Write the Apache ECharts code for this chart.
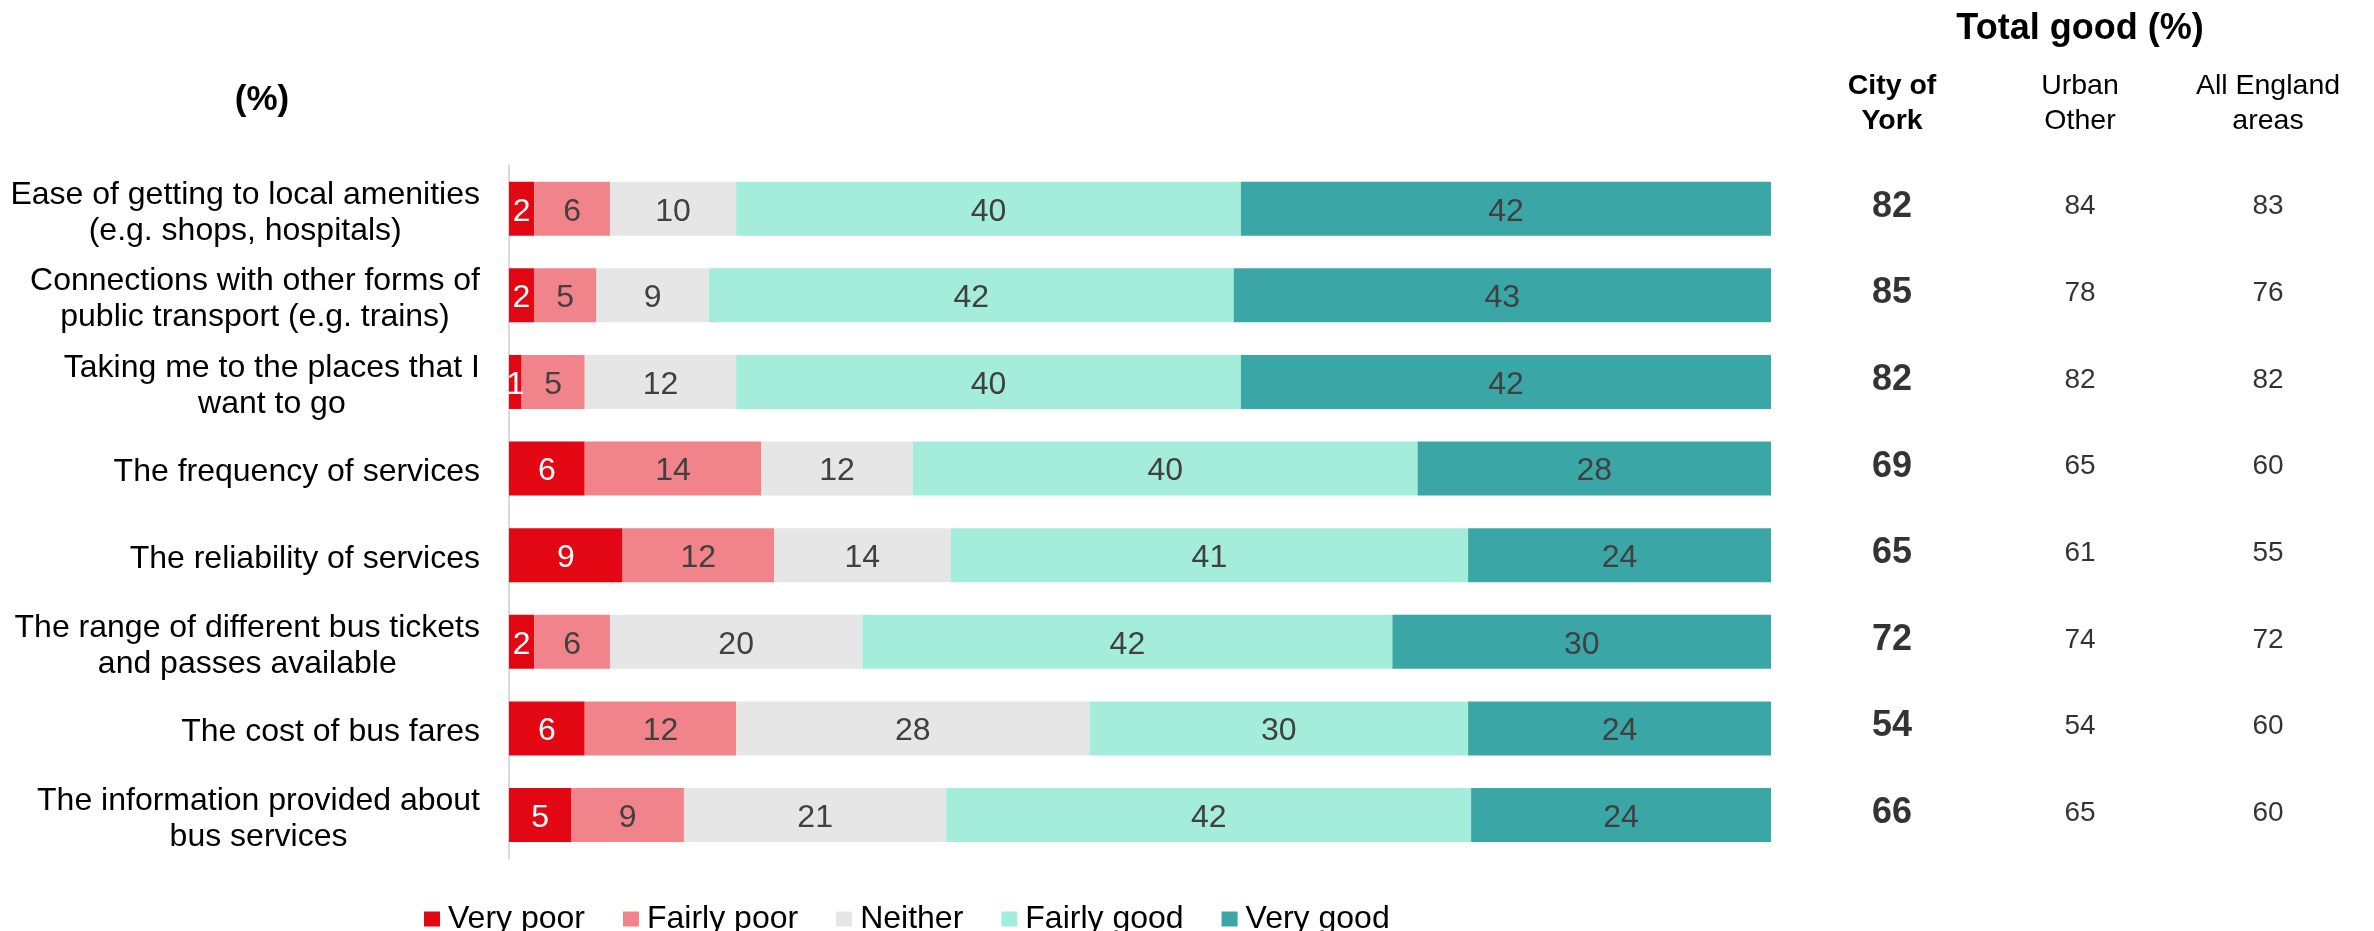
<!DOCTYPE html>
<html><head><meta charset="utf-8">
<script src="https://cdn.jsdelivr.net/npm/echarts@6/dist/echarts.min.js"></script>
<style>html,body{margin:0;padding:0;background:#fff}#c{width:2374px;height:931px}</style>
</head><body><div id="c"></div>
<script>
const categories = [
  'Ease of getting to local amenities\n(e.g. shops, hospitals)',
  'Connections with other forms of\npublic transport (e.g. trains)',
  'Taking me to the places that I\nwant to go',
  'The frequency of services',
  'The reliability of services',
  'The range of different bus tickets\nand passes available',
  'The cost of bus fares',
  'The information provided about\nbus services'
];
const seriesNames = ['Very poor', 'Fairly poor', 'Neither', 'Fairly good', 'Very good'];
const veryPoor   = [2, 2, 1, 6, 9, 2, 6, 5];
const fairlyPoor = [6, 5, 5, 14, 12, 6, 12, 9];
const neither    = [10, 9, 12, 12, 14, 20, 28, 21];
const fairlyGood = [40, 42, 40, 40, 41, 42, 30, 42];
const veryGood   = [42, 43, 42, 28, 24, 30, 24, 24];

const totalColumns = ['City of\nYork', 'Urban\nOther', 'All England\nareas'];
const totalYork       = [82, 85, 82, 69, 65, 72, 54, 66];
const totalUrbanOther = [84, 78, 82, 65, 61, 74, 54, 65];
const totalAllEngland = [83, 76, 82, 60, 55, 72, 60, 60];

const FONT = '"Liberation Sans", Arial, sans-serif';
const colors = ['#E30613', '#F1848A', '#E6E6E6', '#A3EDDA', '#3AA6A6'];
const labelColors = ['#ffffff', '#404040', '#404040', '#404040', '#404040'];
const rawSeries = [veryPoor, fairlyPoor, neither, fairlyGood, veryGood];

// 100% stacked: each row scaled to its own total
const rowTotals = categories.map((_, i) => rawSeries.reduce((s, arr) => s + arr[i], 0));

const GRID_TOP = 165.4, GRID_H = 693;

const barSeries = rawSeries.map((arr, k) => ({
  name: seriesNames[k],
  type: 'bar',
  stack: 'all',
  xAxisIndex: 0, yAxisIndex: 0,
  barWidth: 54,
  itemStyle: { color: colors[k] },
  label: {
    show: true, position: 'inside', offset: [0, 3],
    color: labelColors[k], fontSize: 32, fontFamily: FONT,
    formatter: p => String(arr[p.dataIndex])
  },
  emphasis: { disabled: true },
  data: arr.map((v, i) => v / rowTotals[i] * 100)
}));

const totalSets = [totalYork, totalUrbanOther, totalAllEngland];
const totalSeries = totalSets.map((arr, c) => ({
  type: 'scatter',
  xAxisIndex: 1, yAxisIndex: 1,
  symbolSize: 1,
  silent: true,
  itemStyle: { color: 'rgba(0,0,0,0)' },
  label: {
    show: true, position: 'inside', offset: [0, -2],
    formatter: p => String(p.value[2]),
    color: '#000', fontFamily: FONT,
    fontSize: c === 0 ? 36 : 28,
    fontWeight: c === 0 ? 'bold' : 'normal'
  },
  data: arr.map((v, i) => [c, i, v])
}));

const chart = echarts.init(document.getElementById('c'), null, { renderer: 'canvas' });
chart.setOption({
  animation: false,
  backgroundColor: '#fff',
  title: [
    { text: 'Total good (%)', left: 2080, top: 11, textAlign: 'center', padding: 0,
      textStyle: { fontFamily: FONT, fontSize: 36, fontWeight: 'bold', color: '#000' } },
    { text: '(%)', left: 262, top: 83, textAlign: 'center', padding: 0,
      textStyle: { fontFamily: FONT, fontSize: 35, fontWeight: 'bold', color: '#000' } }
  ],
  legend: {
    data: seriesNames,
    left: 424, top: 903, padding: 0,
    icon: 'rect', itemWidth: 16, itemHeight: 15, itemGap: 38,
    selectedMode: false,
    textStyle: { fontFamily: FONT, fontSize: 32, color: '#000', padding: [0, 0, 0, 3] }
  },
  grid: [
    { left: 509, width: 1262, top: GRID_TOP, height: GRID_H },
    { left: 1798, width: 564, top: GRID_TOP, height: GRID_H }
  ],
  xAxis: [
    { gridIndex: 0, type: 'value', min: 0, max: 100, show: false },
    { gridIndex: 1, type: 'category', position: 'top', data: totalColumns,
      axisLine: { show: false }, axisTick: { show: false },
      axisLabel: {
        margin: 27, interval: 0,
        formatter: (v, idx) => v.split('\n').map(l => (idx === 0 ? '{b|' : '{n|') + l + '}').join('\n'),
        rich: {
          b: { fontFamily: FONT, fontSize: 28.5, fontWeight: 'bold', color: '#000', lineHeight: 35, align: 'center' },
          n: { fontFamily: FONT, fontSize: 28.5, color: '#000', lineHeight: 35, align: 'center' }
        }
      } }
  ],
  yAxis: [
    { gridIndex: 0, type: 'category', data: categories, inverse: true,
      axisLine: { show: true, lineStyle: { color: '#d9d9d9', width: 2 } },
      axisTick: { show: false },
      axisLabel: {
        margin: 29, interval: 0, padding: [8, 0, 0, 0],
        formatter: v => v.split('\n').map(l => '{c|' + l + '}').join('\n'),
        rich: { c: { fontFamily: FONT, fontSize: 32, color: '#000', lineHeight: 36, align: 'center' } }
      } },
    { gridIndex: 1, type: 'category', data: categories, inverse: true, show: false }
  ],
  series: barSeries.concat(totalSeries)
});
</script>
</body></html>
